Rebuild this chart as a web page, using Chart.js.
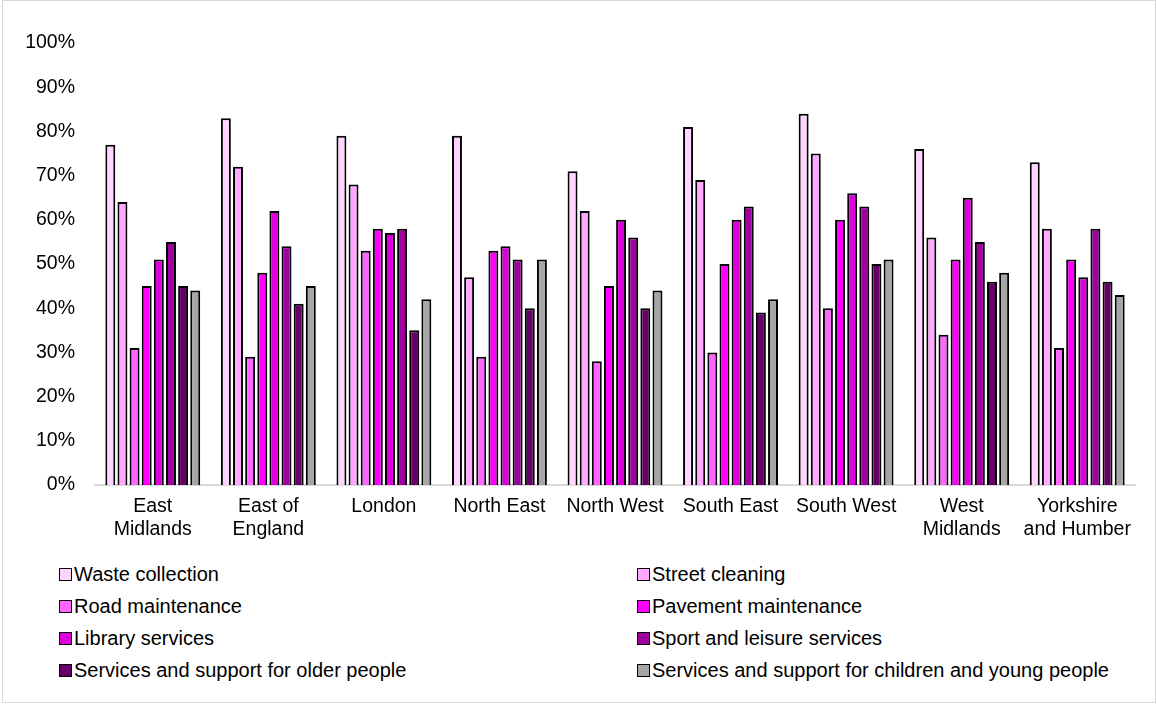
<!DOCTYPE html>
<html>
<head>
<meta charset="utf-8">
<title>Satisfaction with local services by region</title>
<script src="https://cdn.jsdelivr.net/npm/chart.js@4"></script>
<style>
  body { margin: 0; background: #fff; font-family: "Liberation Sans", Arial, sans-serif; }
  #frame { position: absolute; left: 2px; top: 0; width: 1154px; height: 703px; border: 1px solid #d9d9d9; box-sizing: border-box; }
  #chartCanvas { position: absolute; left: 0; top: 0; }
  #legend { position: absolute; left: 59px; top: 562px; display: grid; grid-template-columns: 578px auto; row-gap: 8px; }
  .legend-item { display: flex; align-items: center; height: 24px; font-size: 20px; color: #000; white-space: nowrap; }
  .legend-box { width: 11px; height: 11px; border: 1.5px solid #000; margin-right: 2px; flex: none; }
</style>
</head>
<body>
<div id="frame"></div>
<canvas id="chartCanvas" width="1157" height="550"></canvas>
<div id="legend"></div>
<script>
const regions = [
  ["East", "Midlands"], ["East of", "England"], "London", "North East", "North West",
  "South East", "South West", ["West", "Midlands"], ["Yorkshire", "and Humber"]
];

const wasteCollection     = [77, 83, 79, 79, 71, 81, 84, 76, 73];
const streetCleaning      = [64, 72, 68, 47, 62, 69, 75, 56, 58];
const roadMaintenance     = [31, 29, 53, 29, 28, 30, 40, 34, 31];
const pavementMaintenance = [45, 48, 58, 53, 45, 50, 60, 51, 51];
const libraryServices     = [51, 62, 57, 54, 60, 60, 66, 65, 47];
const sportLeisure        = [55, 54, 58, 51, 56, 63, 63, 55, 58];
const olderPeople         = [45, 41, 35, 40, 40, 39, 50, 46, 46];
const childrenYoung       = [44, 45, 42, 51, 44, 42, 51, 48, 43];

const yTicks = [0, 10, 20, 30, 40, 50, 60, 70, 80, 90, 100];

const series = [
  { label: "Waste collection", data: wasteCollection, color: "#ffd5ff" },
  { label: "Street cleaning", data: streetCleaning, color: "#ffa8ff" },
  { label: "Road maintenance", data: roadMaintenance, color: "#ff66ff" },
  { label: "Pavement maintenance", data: pavementMaintenance, color: "#ff00ff" },
  { label: "Library services", data: libraryServices, color: "#dd00dd" },
  { label: "Sport and leisure services", data: sportLeisure, color: "#a000a0" },
  { label: "Services and support for older people", data: olderPeople, color: "#660066" },
  { label: "Services and support for children and young people", data: childrenYoung, color: "#a6a6a6" }
];

const font = { family: "'Liberation Sans', Arial, sans-serif", size: 19.5 };

const chart = new Chart(document.getElementById("chartCanvas").getContext("2d"), {
  type: "bar",
  data: {
    labels: regions,
    datasets: series.map(s => ({
      label: s.label,
      data: s.data,
      backgroundColor: s.color,
      borderColor: "#000",
      borderWidth: 2,
      categoryPercentage: 0.84,
      barPercentage: 0.82
    }))
  },
  options: {
    responsive: false,
    animation: false,
    layout: { padding: { top: 43, right: 22, left: 0, bottom: 0 } },
    plugins: { legend: { display: false }, tooltip: { enabled: false } },
    scales: {
      x: {
        grid: { display: false, drawTicks: false },
        border: { display: true, color: "#d9d9d9", width: 2 },
        ticks: { color: "#000", font: font, padding: 10, maxRotation: 0, autoSkip: false },
        afterFit: scale => { scale.height = 65; }
      },
      y: {
        min: 0,
        max: 100,
        afterBuildTicks: scale => { scale.ticks = yTicks.map(v => ({ value: v })); },
        grid: { display: false, drawTicks: false },
        border: { display: false },
        ticks: { color: "#000", font: font, padding: 20, callback: v => v + "%" },
        afterFit: scale => { scale.width = 95; }
      }
    }
  }
});

// two-column legend built from the datasets
const legendEl = document.getElementById("legend");
chart.data.datasets.forEach(ds => {
  const item = document.createElement("div");
  item.className = "legend-item";
  item.innerHTML = `<span class="legend-box" style="background:${ds.backgroundColor}"></span>${ds.label}`;
  legendEl.appendChild(item);
});
</script>
</body>
</html>
